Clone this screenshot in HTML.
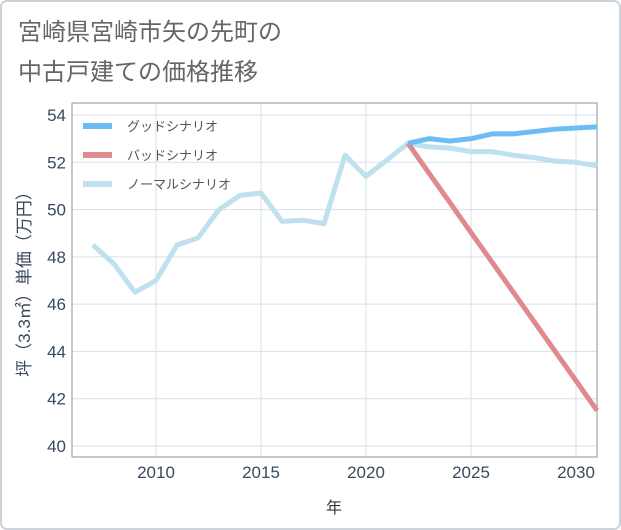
<!DOCTYPE html>
<html><head><meta charset="utf-8">
<style>
body{margin:0;background:#fff;}
svg{display:block;font-family:"Liberation Sans","Noto Sans CJK JP",sans-serif;}
</style></head>
<body>
<svg id="chart" width="621" height="530">
<rect x="1" y="1" width="619" height="528" rx="6" fill="#fff" stroke="#ccd3da" stroke-width="2"/>
<text x="18" y="40" font-size="24" fill="#666">宮崎県宮崎市矢の先町の</text>
<text x="18" y="80" font-size="24" fill="#666">中古戸建ての価格推移</text>
<g id="grid"></g>
<rect x="72" y="103" width="525" height="354" fill="none" stroke="#8a939c" stroke-width="1"/>
<g id="series"></g>
<g id="axes"></g>
<text x="334" y="513" font-size="16" fill="#333" text-anchor="middle">年</text>
<text transform="translate(30,280) rotate(-90)" font-size="17" fill="#3a4a5c" text-anchor="middle">坪（3.3㎡）単価（万円）</text>
<g>
<line x1="83" y1="126" x2="112" y2="126" stroke="#6bbdf3" stroke-width="6"/>
<text x="127" y="131" font-size="13" fill="#555">グッドシナリオ</text>
<line x1="83" y1="155" x2="112" y2="155" stroke="#e08a90" stroke-width="6"/>
<text x="127" y="160" font-size="13" fill="#555">バッドシナリオ</text>
<line x1="83" y1="184" x2="112" y2="184" stroke="#bfe0ee" stroke-width="6"/>
<text x="127" y="189" font-size="13" fill="#555">ノーマルシナリオ</text>
</g>
</svg>
<script>
const normalYears=[2007,2008,2009,2010,2011,2012,2013,2014,2015,2016,2017,2018,2019,2020,2021,2022,2023,2024,2025,2026,2027,2028,2029,2030,2031];
const normalValues=[48.5,47.7,46.5,47.0,48.5,48.8,50.0,50.6,50.7,49.5,49.55,49.4,52.3,51.4,52.1,52.8,52.65,52.6,52.45,52.45,52.3,52.2,52.05,52.0,51.85];
const forecastYears=[2022,2023,2024,2025,2026,2027,2028,2029,2030,2031];
const goodValues=[52.8,53.0,52.9,53.0,53.2,53.2,53.3,53.4,53.45,53.5];
const badValues=[52.8,51.54,50.29,49.03,47.78,46.52,45.27,44.01,42.76,41.5];
const yTicks=[40,42,44,46,48,50,52,54];
const xTicks=[2010,2015,2020,2025,2030];
const NS='http://www.w3.org/2000/svg';
function xs(y){return 156+(y-2010)*21;}
function ys(v){return 446-(v-40)*(331/14);}
const grid=document.getElementById('grid'),axes=document.getElementById('axes'),series=document.getElementById('series');
function mk(tag,attrs,parent){const e=document.createElementNS(NS,tag);for(const k in attrs)e.setAttribute(k,attrs[k]);parent.appendChild(e);return e;}
yTicks.forEach(t=>{
 const l=mk('line',{x1:72,x2:597,y1:ys(t),y2:ys(t),stroke:'#d5e1ea','stroke-width':1},grid);
 
 
 const tx=mk('text',{x:66,y:ys(t)+6,'font-size':17,fill:'#3a4a5c','text-anchor':'end'},axes);
 tx.textContent=t;
 
 
});
xTicks.forEach(t=>{
 const l=mk('line',{x1:xs(t),x2:xs(t),y1:103,y2:457,stroke:'#d5e1ea','stroke-width':1},grid);
 
 
 const tx=mk('text',{x:xs(t),y:478,'font-size':17,fill:'#3a4a5c','text-anchor':'middle'},axes);
 tx.textContent=t;
 
 
});
function line(years,vals,color,name){
 const d=years.map((y,i)=>(i?'L':'M')+xs(y)+','+ys(vals[i])).join(' ');
 const p=mk('path',{d:d,fill:'none',stroke:color,'stroke-width':5,'stroke-linejoin':'round'},series);
 
 
}
line(normalYears,normalValues,'#bfe0ee','normal-scenario-line');
line(forecastYears,badValues,'#e08a90','bad-scenario-line');
line(forecastYears,goodValues,'#6bbdf3','good-scenario-line');
</script>
</body></html>
